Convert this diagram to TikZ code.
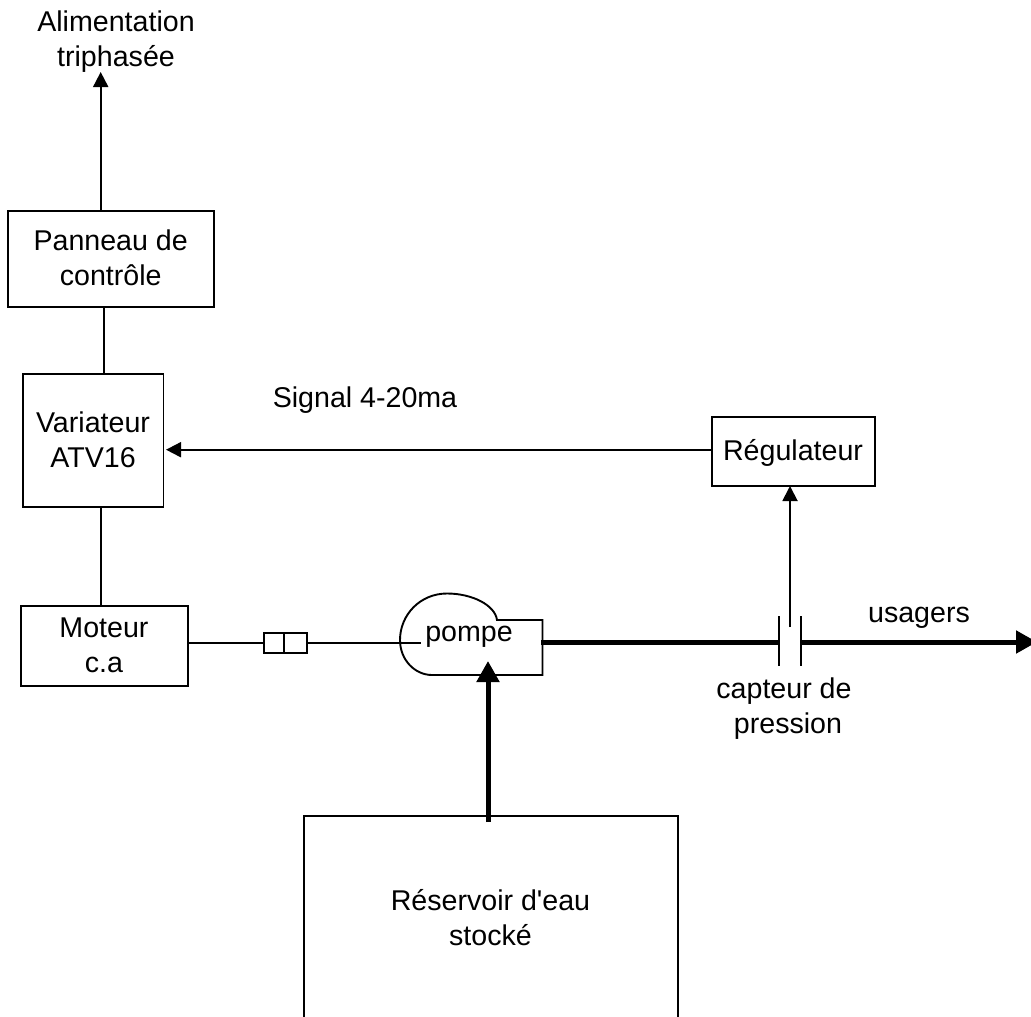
\documentclass[tikz,border=0pt]{standalone}
\usepackage{fontspec}
\newfontfamily\labfont{Liberation Sans}
\usetikzlibrary{arrows.meta}
\tikzset{
  x=1pt,y=-1pt,
  every node/.style={inner sep=0pt,outer sep=0pt},
  lab/.style={font=\labfont\fontsize{28.6}{34.6}\selectfont,align=center,anchor=base},
  box/.style={draw,line width=1.9pt},
  wire/.style={line width=1.9pt},
  thickwire/.style={line width=5pt},
  thin arrow/.style={wire,-{Triangle[length=15pt,width=15pt]}},
  thick arrow/.style={thickwire,-{Triangle[length=21pt,width=22pt]}},
}
\begin{document}
\begin{tikzpicture}
\useasboundingbox (0,0) rectangle (1031,1017);
% boxes
\node[box,minimum width=206pt,minimum height=96pt] (pan) at (111,259) {};
\node[box,minimum width=140.5pt,minimum height=133pt] (var) at (93.25,440.5) {};
\node[box,minimum width=167pt,minimum height=80pt] (mot) at (104.5,646) {};
\node[box,minimum width=163pt,minimum height=69pt] (reg) at (793.5,451.5) {};
% labels (placed by the baseline of their last line)
\node[lab] (pant) at (110.7,285) {Panneau de\\contrôle};
\node[lab] (vart) at (93,467) {Variateur\\ATV16};
\node[lab] (mott) at (104,672) {Moteur\\c.a};
\node[lab] (regt) at (793,460) {Régulateur};
\node[lab] (alim) at (116,66) {Alimentation\\triphasée};
\node[lab] (sig) at (365,407) {Signal 4-20ma};
\node[lab] (usa) at (919,622) {usagers};
\node[lab] (cap) at (788,733) {capteur de\hspace*{8pt}\\pression};
\node[lab] (res) at (490.5,945) {Réservoir d'eau\\stocké};
\node[lab] (pom) at (469,641) {pompe};
% reservoir, open at the page bottom
\draw[wire] (304,1017) |- (678,816) -- (678,1017);
\coordinate (restop) at (488,822);
% pump
\draw[wire] (497,620) .. controls (495,605) and (472,593.5) .. (447,593.5)
  .. controls (420,593.5) and (400,615) .. (400,640)
  .. controls (400,660) and (415,675) .. (432,675)
  -- (542.5,675) -- (542.5,620) -- cycle;
\coordinate (pumpin) at (488,661);
\coordinate (pumpout) at (541,642);
\coordinate (pumpshaft) at (421,642);
% coupling
\node[box,minimum width=20pt,minimum height=20pt] (c1) at (274.3,642.7) {};
\node[box,minimum width=22.7pt,minimum height=20pt] (c2) at (295.4,642.7) {};
% sensor
\coordinate (s1a) at (779,616); \coordinate (s1b) at (779,666);
\coordinate (s2a) at (801,616); \coordinate (s2b) at (801,666);
\coordinate (s1m) at (779,642); \coordinate (s2m) at (801,642);
\coordinate (stap) at (790,627);
\coordinate (out) at (1037,642);
\coordinate (sigend) at (166,449.7);
\coordinate (alimend) at (100.7,72);
\coordinate (panvar) at (103.7,300);
\coordinate (varmot) at (100.7,500);
\draw[wire] (s1a) -- (s1b);
\draw[wire] (s2a) -- (s2b);
% connectors
\draw[thin arrow] (alimend |- pan.north) -- (alimend);
\draw[wire] (panvar |- pan.south) -- (panvar |- var.north);
\draw[wire] (varmot |- var.south) -- (varmot |- mot.north);
\draw[thin arrow] (sigend -| reg.west) -- (sigend);
\draw[thin arrow] (stap) -- (stap |- reg.south);
\draw[wire] (mot.east |- c1.west) -- (c1.west);
\draw[wire] (c2.east) -- (c2.east -| pumpshaft);
\draw[thick arrow] (restop) -- (pumpin);
\draw[thickwire] (pumpout) -- (s1m);
\draw[thick arrow] (s2m) -- (out);
\end{tikzpicture}
\end{document}
